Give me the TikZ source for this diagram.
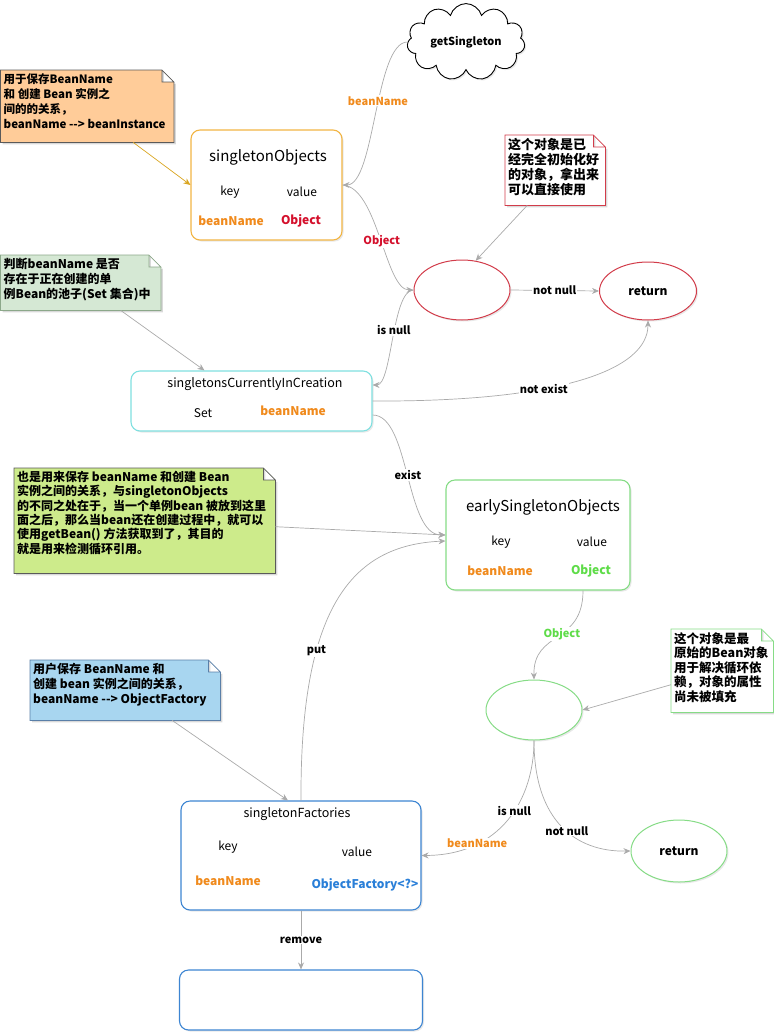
\documentclass[tikz,border=0pt]{standalone}
\usepackage{fontspec}
\setmainfont{Noto Sans CJK SC}
\usetikzlibrary{shapes.geometric,shapes.symbols,shadows,backgrounds,arrows.meta}

\definecolor{nameorange}{HTML}{F08A1C}
\definecolor{objred}{HTML}{D4102C}
\definecolor{objgreen}{HTML}{5EDC48}
\definecolor{facblue}{HTML}{2A7FD8}
\definecolor{linegray}{HTML}{AAAAAA}
\definecolor{arrowgold}{HTML}{D9A520}
\definecolor{soline}{HTML}{F2B544}
\definecolor{redline}{HTML}{D23C4A}
\definecolor{cyanline}{HTML}{80E0E0}
\definecolor{greenline}{HTML}{86DC86}
\definecolor{blueline}{HTML}{3D85D2}
\definecolor{memoline}{HTML}{5A5A5A}
\definecolor{memoorange}{HTML}{FFCC99}
\definecolor{memomint}{HTML}{D5E8D4}
\definecolor{mintline}{HTML}{8CA88A}
\definecolor{memolime}{HTML}{CDEB8B}
\definecolor{memoblue}{HTML}{A8D6F0}
\definecolor{memoblueline}{HTML}{5A7FA8}

% text of a memo: width, height, lines
\newcommand{\memotext}[3]{\parbox[c][#2][t]{#1}{\raggedright #3}}

\tikzset{
  store/.style={draw=#1, line width=1.1pt, rounded corners=9pt, fill=white,
    drop shadow={opacity=.18, shadow xshift=1.5pt, shadow yshift=-1.5pt}},
  state/.style={ellipse, draw=#1, line width=1pt, fill=white,
    drop shadow={opacity=.18, shadow xshift=1.5pt, shadow yshift=-1.5pt}},
  memo/.style={anchor=north west, inner sep=3pt, font=\bfseries\fontsize{12}{15}\selectfont},
  link/.style={draw=linegray, line width=.7pt, -{Stealth[length=7pt,width=6pt]}},
  tag/.style={font=\bfseries\fontsize{11}{13}\selectfont, fill=white, inner sep=1pt},
  title/.style={font=\fontsize{15}{17}\selectfont},
  field/.style={font=\fontsize{12}{14}\selectfont},
  fieldb/.style={font=\bfseries\fontsize{12}{14}\selectfont},
}

\begin{document}
\begin{tikzpicture}[x=1pt, y=-1pt]
\useasboundingbox (0,0) rectangle (774,1034);

% start
\node[cloud, cloud puffs=11, aspect=2, draw, line width=.9pt, fill=white, minimum width=108pt, minimum height=64pt,
  drop shadow={opacity=.18, shadow xshift=1.5pt, shadow yshift=-1.5pt}, font=\bfseries\fontsize{11}{13}\selectfont] (get) at (466,42) {getSingleton};

% singletonObjects
\node[store=soline, minimum width=151pt, minimum height=110pt] (so) at (266.5,185) {};
\node[title] (soTitle) at (268,157) {singletonObjects};
\node[field] (soKey) at (230,192) {key};
\node[field] (soValue) at (302,192) {value};
\node[fieldb, text=nameorange] (soName) at (231,221) {beanName};
\node[fieldb, text=objred] (soObj) at (301,221) {Object};

% singletonsCurrentlyInCreation
\node[store=cyanline, minimum width=241pt, minimum height=60pt] (scic) at (251.5,401) {};
\node[font=\fontsize{12.5}{14}\selectfont] (scicTitle) at (255,384) {singletonsCurrentlyInCreation};
\node[field] (scicSet) at (203,413) {Set};
\node[fieldb, text=nameorange] (scicName) at (293,411) {beanName};

% earlySingletonObjects
\node[store=greenline, minimum width=184pt, minimum height=110pt] (eso) at (538,535) {};
\node[title] (esoTitle) at (543,507) {earlySingletonObjects};
\node[field] (esoKey) at (501,542) {key};
\node[field] (esoValue) at (592,542) {value};
\node[fieldb, text=nameorange] (esoName) at (500,571) {beanName};
\node[fieldb, text=objgreen] (esoObj) at (591,571) {Object};

% singletonFactories
\node[store=blueline, minimum width=240pt, minimum height=109pt] (sf) at (301,855.5) {};
\node[font=\fontsize{12.5}{14}\selectfont] (sfTitle) at (297,814) {singletonFactories};
\node[field] (sfKey) at (228,847) {key};
\node[field] (sfValue) at (357,852) {value};
\node[fieldb, text=nameorange] (sfName) at (228,881) {beanName};
\node[fieldb, text=facblue] (sfObj) at (365,885) {ObjectFactory<?>};
\node[store=blueline, minimum width=243pt, minimum height=60pt] (blank) at (301,1000) {};

% checks
\node[state=redline, minimum width=96pt, minimum height=60pt] (e1) at (462,290) {};
\node[state=redline, minimum width=97pt, minimum height=58pt, fieldb] (ret1) at (648,291) {return};
\node[state=greenline, minimum width=96pt, minimum height=60pt] (e2) at (534,710) {};
\node[state=greenline, minimum width=96pt, minimum height=62pt, fieldb] (ret2) at (679,851) {return};

% memos
\node[memo, font=\bfseries\fontsize{11.5}{15}\selectfont] (noteA) at (0.5,70) {\memotext{167pt}{66pt}{用于保存BeanName\\和 创建 Bean 实例之\\间的的关系，\\\mbox{beanName -{}-{}> beanInstance}}};
\node[memo, font=\bfseries\fontsize{13}{15}\selectfont] (noteB) at (505,135) {\memotext{94pt}{64pt}{这个对象是已\\经完全初始化好\\的对象，拿出来\\可以直接使用}};
\node[memo] (noteC) at (0.5,255) {\memotext{154pt}{49pt}{判断beanName 是否\\存在于正在创建的单\\例Bean的池子(Set 集合)中}};
\node[memo, font=\bfseries\fontsize{12}{14.3}\selectfont] (noteD) at (14,468) {\memotext{255pt}{99pt}{也是用来保存 beanName 和创建 Bean\\实例之间的关系，与singletonObjects\\的不同之处在于，当一个单例bean 被放到这里\\面之后，那么当bean还在创建过程中，就可以\\使用getBean() 方法获取到了，其目的\\就是用来检测循环引用。}};
\node[memo] (noteE) at (30,660) {\memotext{184pt}{54pt}{用户保存 BeanName 和\\创建 bean 实例之间的关系，\\beanName -{}-{}> ObjectFactory}};
\node[memo, font=\bfseries\fontsize{12.5}{14.5}\selectfont] (noteF) at (671,629) {\memotext{96pt}{77pt}{这个对象是最\\原始的Bean对象\\用于解决循环依\\赖，对象的属性\\尚未被填充}};

\begin{scope}[on background layer]
  \foreach \n/\f/\d in {noteA/memoorange/memoline, noteB/white/redline, noteC/memomint/mintline,
      noteD/memolime/memoline, noteE/memoblue/memoblueline, noteF/white/greenline}
    \filldraw[fill=\f, draw=\d, line width=.8pt, drop shadow={opacity=.3, shadow xshift=2pt, shadow yshift=-2pt}]
      (\n.south west) -- (\n.north west) -- ([xshift=-12pt]\n.north east) -- ([yshift=-12pt]\n.north east) -- (\n.south east) -- cycle
      ([xshift=-12pt]\n.north east) |- ([yshift=-12pt]\n.north east);
\end{scope}

% flow
\draw[link] (get.west) .. controls (375,42) and (375,185) .. (so.east) node[tag, text=nameorange, pos=.44] (lbName) {beanName};
\draw[link] (so.east) .. controls (378,187) and (385,290) .. (e1.west) node[tag, text=objred, pos=.52] (lbObj) {Object};
\draw[link] (e1.east) -- (ret1.west) node[tag, midway] (lbNotNull) {not null};
\draw[link] (e1.west) .. controls (392,290) and (392,385) .. ([yshift=16pt]scic.east) node[tag, pos=.45] (lbIsNull) {is null};
\draw[link] (scic.east) .. controls (560,402) and (648,370) .. (ret1.south) node[tag, pos=.38] (lbNotExist) {not exist};
\draw[link] ([yshift=-14pt]scic.east) .. controls (410,415) and (405,535) .. (eso.west) node[tag, pos=.5] (lbExist) {exist};
\draw[link] (sf.north) .. controls (300,610) and (350,545) .. ([yshift=-6pt]eso.west) node[tag, pos=.33] (lbPut) {put};
\draw[link] ([xshift=45pt]eso.south) .. controls (583,645) and (533,630) .. (e2.north) node[tag, text=objgreen, pos=.45] (lbObj2) {Object};
\draw[link] (e2.south) .. controls (534,800) and (500,855) .. (sf.east)
  node[tag, pos=.43] (lbIsNull2) {is null} node[tag, text=nameorange, pos=.72] (lbName2) {beanName};
\draw[link] (e2.south) .. controls (534,820) and (575,852) .. (ret2.west) node[tag, pos=.55] (lbNotNull2) {not null};
\draw[link] (sf.south) -- (blank.north) node[tag, midway] (lbRemove) {remove};

% memo pointers
\draw[link, draw=arrowgold] ([xshift=46pt]noteA.south) -- (so.west);
\draw[link] ([xshift=-28pt]noteB.south) -- (e1.65);
\draw[link] ([xshift=40pt]noteC.south) -- ([xshift=-47pt]scic.north);
\draw[link] ([yshift=-6pt]noteD.east) -- (eso.west);
\draw[link] ([xshift=47pt]noteE.south) -- ([xshift=-13pt]sf.north);
\draw[link] ([yshift=-14pt]noteF.west) -- (e2.east);
\end{tikzpicture}
\end{document}
